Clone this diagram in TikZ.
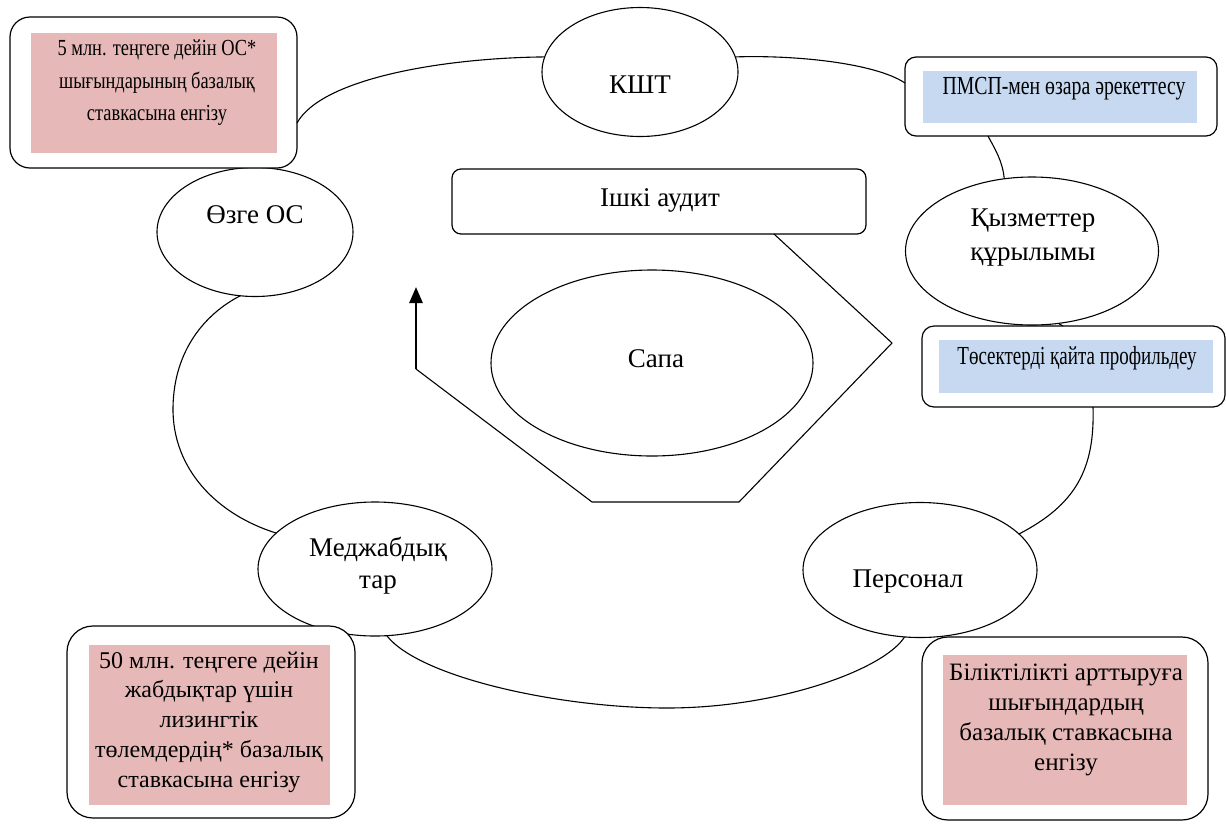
\documentclass[tikz,border=0pt]{standalone}
\usepackage{fontspec}
\setmainfont{Liberation Serif}
\newfontfamily\narrowA[FakeStretch=0.8]{Liberation Serif}
\newfontfamily\narrowB[FakeStretch=0.76]{Liberation Serif}
\newfontfamily\narrowC[FakeStretch=0.73]{Liberation Serif}
\usetikzlibrary{arrows.meta,shapes.geometric}
\definecolor{rosefill}{HTML}{E6B9B8}
\definecolor{skyfill}{HTML}{C6D9F1}
\tikzset{
  panel/.style={draw=black, line width=1.2pt, fill=white, rounded corners=#1,
    inner sep=0pt, outer sep=0pt},
  patch/.style={fill=#1, draw=none, inner sep=0pt, outer sep=0pt},
  oval/.style={draw=black, ellipse, line width=1.1pt, fill=white,
    inner sep=0pt, outer sep=0pt},
  caption/.style={align=center, inner sep=0pt, outer sep=0pt,
    font=\fontsize{27}{34}\selectfont},
  link/.style={line width=1.1pt, line join=round},
  bigarrow/.style={line width=2.6pt, -{Triangle[length=16pt,width=13pt]}},
}
\begin{document}
\begin{tikzpicture}[x=1pt,y=-1pt]
\useasboundingbox (0,0) rectangle (1226,823);

% ---- ring of topics (ellipses) ----
\node[oval, minimum width=196pt, minimum height=129pt] (kst) at (640,72) {};
\node[caption] (ksttext) at (640,85) {КШТ};

\node[oval, minimum width=196pt, minimum height=129pt] (other) at (255,232) {};
\node[caption] (othertext) at (255,215) {Өзге ОС};

\node[oval, minimum width=253pt, minimum height=148pt] (serv) at (1032,251) {};
\node[caption] (servtext) at (1033,238) {Қызметтер\\құрылымы};

\node[oval, minimum width=234pt, minimum height=134pt] (equip) at (375,569) {};
\node[caption, font=\fontsize{27}{32}\selectfont] (equiptext) at (378,566) {Меджабдық\\тар};

\node[oval, minimum width=234pt, minimum height=135pt] (staff) at (920,570) {};
\node[caption] (stafftext) at (908,582) {Персонал};

% ---- centre ----
\node[oval, minimum width=322pt, minimum height=186pt] (quality) at (652,363) {};
\node[caption] (qualitytext) at (656,359) {Сапа};

\node[panel=9pt, minimum width=414pt, minimum height=65pt] (audit) at (659,201.5) {};
\node[caption] (audittext) at (660,200) {Ішкі аудит};

% ---- callout panels ----
\node[panel=20pt, minimum width=287pt, minimum height=151pt] (costbox) at (153.5,92.5) {};
\node[patch=rosefill, minimum width=246pt, minimum height=120pt] (costfill) at (154,93) {};
\node[caption, font=\narrowA\fontsize{23}{32.5}\selectfont] (costtext) at (157,83)
  {5 млн. теңгеге дейін ОС*\\шығындарының базалық\\ставкасына енгізу};

\node[panel=11pt, minimum width=312pt, minimum height=79pt] (pmsp) at (1061,96.5) {};
\node[patch=skyfill, minimum width=274pt, minimum height=52pt] (pmspfill) at (1060,97) {};
\node[caption, font=\narrowB\fontsize{26}{30}\selectfont] (pmsptext) at (1064,89)
  {ПМСП-мен өзара әрекеттесу};

\node[panel=12pt, minimum width=303pt, minimum height=81pt] (beds) at (1073.5,366.5) {};
\node[patch=skyfill, minimum width=274pt, minimum height=53pt] (bedsfill) at (1076,366.5) {};
\node[caption, font=\narrowC\fontsize{26}{30}\selectfont] (bedstext) at (1077,358)
  {Төсектерді қайта профильдеу};

\node[panel=26pt, minimum width=288pt, minimum height=192pt] (lease) at (211,722) {};
\node[patch=rosefill, minimum width=241pt, minimum height=160pt] (leasefill) at (209.5,725) {};
\node[caption, font=\fontsize{24}{29.7}\selectfont] (leasetext) at (209,722)
  {50 млн. теңгеге дейін\\жабдықтар үшін\\лизингтік\\төлемдердің* базалық\\ставкасына енгізу};

\node[panel=26pt, minimum width=286pt, minimum height=183pt] (train) at (1065,728.5) {};
\node[patch=rosefill, minimum width=244pt, minimum height=150pt] (trainfill) at (1065,730) {};
\node[caption, font=\fontsize{25}{30}\selectfont] (traintext) at (1066,720)
  {Біліктілікті арттыруға\\шығындардың\\базалық ставкасына\\енгізу};

% ---- ring connectors ----
\coordinate (ringlow) at (667,708);
\coordinate (ringwest) at (173,407);

\draw[link] ([yshift=-30.5pt]costbox.east) .. controls +(25,-45) and +(-100,1) .. (kst.171);
\draw[link] (kst.9) .. controls +(60,-2) and +(-30,-20) .. ([yshift=13.5pt]pmsp.west);
\draw[link] ([xshift=-73pt]pmsp.south) .. controls +(8,15) and +(-2,-18) .. (serv.111);
\draw[link] (serv.-70) -- ([xshift=-10.5pt]beds.north);
\draw[link] ([xshift=19.5pt]beds.south) .. controls +(2,63) and +(56,-29) .. (staff.20);
\draw[link] (staff.257) .. controls +(-20,32) and +(113,0) .. (ringlow)
  .. controls +(-107,0) and +(33,42) .. (equip.280);
\draw[link] (equip.160) .. controls +(-58,-18) and +(-1,63) .. (ringwest)
  .. controls +(1,-57) and +(-35,18) .. (other.257);

% ---- audit loop with arrow ----
\coordinate (loopeast) at (892,343);
\coordinate (loopse) at (739,502);
\coordinate (loopsw) at (592,502);
\coordinate (loopwest) at (416,369);
\coordinate (looptip) at (416,287);
\draw[link] ([xshift=-92pt]audit.south east) -- (loopeast) -- (loopse) -- (loopsw) -- (loopwest);
\draw[bigarrow] (loopwest) -- (looptip);

\end{tikzpicture}
\end{document}
